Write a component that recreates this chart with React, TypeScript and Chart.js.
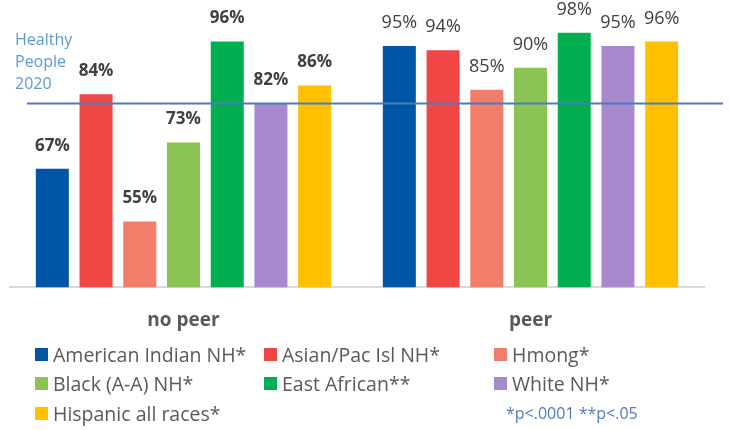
import React, { useEffect, useRef } from "react";
import { Chart, registerables } from "chart.js";

Chart.register(...registerables);

const categories = ["no peer", "peer"];
const seriesNames = [
  "American Indian NH*",
  "Asian/Pac Isl NH*",
  "Hmong*",
  "Black (A-A) NH*",
  "East African**",
  "White NH*",
  "Hispanic all races*",
];
const americanIndian = [67, 95];
const asianPacIsl = [84, 94];
const hmong = [55, 85];
const blackAA = [73, 90];
const eastAfrican = [96, 98];
const whiteNH = [82, 95];
const hispanic = [86, 96];
const seriesValues = [americanIndian, asianPacIsl, hmong, blackAA, eastAfrican, whiteNH, hispanic];
const seriesColors = ["#0055A5", "#F14646", "#F07E6A", "#8BC453", "#00AF50", "#A889CE", "#FFC000"];
const healthyPeopleTarget = 81.9;
const healthyPeopleLabel = ["Healthy", "People", "2020"];
const footnote = "*p<.0001 **p<.05";
const yMin = 40;
const yMax = 100;

const FONT = "'Open Sans', sans-serif";

const valueLabels = {
  id: "valueLabels",
  afterDatasetsDraw(chart: any) {
    const ctx = chart.ctx;
    const y = chart.scales.y.getPixelForValue(healthyPeopleTarget);
    ctx.save();
    ctx.strokeStyle = "#4F7AC0";
    ctx.lineWidth = 2;
    ctx.beginPath();
    ctx.moveTo(27, y);
    ctx.lineTo(723, y);
    ctx.stroke();
    ctx.restore();

    ctx.save();
    ctx.fillStyle = "#404040";
    ctx.textAlign = "center";
    ctx.textBaseline = "middle";
    chart.data.datasets.forEach((ds: any, i: number) => {
      const meta = chart.getDatasetMeta(i);
      meta.data.forEach((bar: any, j: number) => {
        ctx.font = (j === 0 ? "bold 17px " : "18px ") + FONT;
        ctx.fillText(ds.data[j] + "%", bar.x, bar.y - 23);
      });
    });
    ctx.restore();
  },
};

export default function App() {
  const ref = useRef<HTMLCanvasElement>(null);
  useEffect(() => {
    if (!ref.current) return;
    const chart = new Chart(ref.current, {
      type: "bar",
      data: {
        labels: categories,
        datasets: seriesNames.map((name, i) => ({
          label: name,
          data: seriesValues[i],
          backgroundColor: seriesColors[i],
          borderWidth: 0,
          barPercentage: 0.755,
          categoryPercentage: 0.882,
        })),
      },
      options: {
        responsive: false,
        animation: false,
        layout: { padding: { left: 10, right: 26, top: 24, bottom: 76 } },
        plugins: { legend: { display: false }, tooltip: { enabled: false } },
        scales: {
          y: { display: false, min: yMin, max: yMax },
          x: {
            grid: { display: false, drawTicks: false },
            border: { display: true, color: "#D9D9D9", width: 2 },
            ticks: {
              color: "#595959",
              padding: 22,
              font: { family: FONT, size: 19, weight: "bold" },
            },
          },
        },
      },
      plugins: [valueLabels],
    });
    return () => chart.destroy();
  }, []);

  const cols = [35, 264, 494];
  const rows = [354, 383, 413];
  return (
    <div style={{ position: "absolute", left: 0, top: 0, width: 730, height: 430, background: "#fff", fontFamily: FONT }}>
      <canvas ref={ref} width={730} height={430} style={{ position: "absolute", left: 0, top: 0 }} />
      <div style={{ position: "absolute", left: 15, top: 28, fontSize: 16, lineHeight: "22px", color: "#5B9BD5" }}>
        {healthyPeopleLabel.map((t) => (
          <div key={t}>{t}</div>
        ))}
      </div>
      {seriesNames.map((name, i) => (
        <div
          key={name}
          style={{
            position: "absolute",
            left: cols[i % 3],
            top: rows[Math.floor(i / 3)] - 12,
            height: 24,
            display: "flex",
            alignItems: "center",
            whiteSpace: "nowrap",
            fontSize: 19.5,
            color: "#595959",
          }}
        >
          <span style={{ display: "inline-block", width: 13, height: 13, background: seriesColors[i], marginRight: 5 }} />
          <span>{name}</span>
        </div>
      ))}
      <div style={{ position: "absolute", left: 506, top: rows[2] - 11, height: 22, lineHeight: "22px", fontSize: 16, color: "#4F7AC0", whiteSpace: "nowrap" }}>
        {footnote}
      </div>
    </div>
  );
}
